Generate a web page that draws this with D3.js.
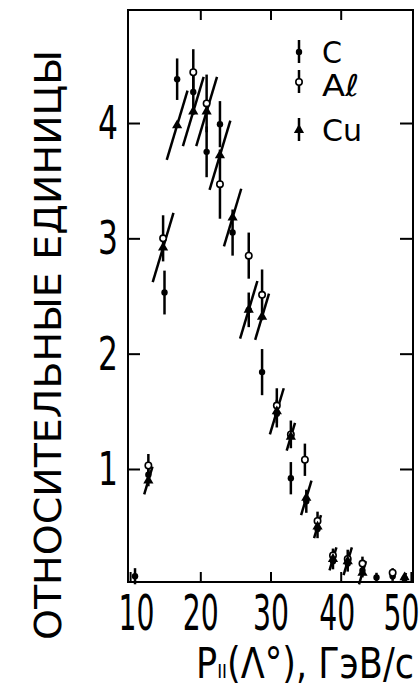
<!DOCTYPE html>
<html>
<head>
<meta charset="utf-8">
<script src="https://cdn.jsdelivr.net/npm/d3@7"></script>
<style>
  body { margin: 0; background: #fff; }
  svg { display: block; }
  text { font-family: "DejaVu Sans", sans-serif; fill: #000; }
</style>
</head>
<body>
<svg id="chart" width="420" height="691"></svg>
<script>
// values: [p, value, error]
var carbon = [
	[10.7, 0.07, 0.07], [12.6, 0.95, 0.10], [14.9, 2.53, 0.19], [16.7, 4.38, 0.18],
	[19.0, 4.27, 0.20], [20.9, 3.75, 0.22], [22.8, 3.99, 0.20], [24.6, 3.05, 0.20],
	[26.9, 2.38, 0.15], [28.8, 1.84, 0.20], [30.9, 1.48, 0.12], [32.9, 0.92, 0.14],
	[35.1, 0.72, 0.10], [36.7, 0.48, 0.08], [38.9, 0.20, 0.07], [41.0, 0.18, 0.07],
	[43.1, 0.12, 0.06], [45.1, 0.06, 0.04], [47.4, 0.07, 0.04], [49.1, 0.05, 0.03]
];
var aluminium = [
	[12.6, 1.03, 0.10], [14.7, 3.00, 0.20], [19.0, 4.44, 0.20], [20.9, 4.17, 0.25],
	[22.8, 3.47, 0.30], [26.9, 2.85, 0.20], [28.8, 2.51, 0.22], [30.9, 1.55, 0.15],
	[32.9, 1.30, 0.12], [34.9, 1.08, 0.14], [36.7, 0.55, 0.08], [38.9, 0.25, 0.06],
	[41.0, 0.22, 0.08], [43.1, 0.18, 0.06], [47.4, 0.10, 0.04]
];
var copper = [
	[12.6, 0.90, 0.12], [14.7, 2.92, 0.30], [16.7, 3.98, 0.30], [19.0, 4.10, 0.30],
	[20.9, 4.10, 0.30], [22.8, 3.72, 0.30], [24.6, 3.18, 0.25], [26.9, 2.38, 0.25],
	[28.8, 2.32, 0.20], [30.9, 1.50, 0.20], [32.9, 1.28, 0.12], [35.1, 0.75, 0.15],
	[36.7, 0.50, 0.10], [38.9, 0.22, 0.10], [41.0, 0.20, 0.12], [43.1, 0.10, 0.10],
	[49.1, 0.06, 0.04]
];
var legendNames = ["C", "A\u2113", "Cu"];
var xTicks = [10, 20, 30, 40, 50];
var yTicks = [1, 2, 3, 4];
var yTitle = "ОТНОСИТЕЛЬНЫЕ ЕДИНИЦЫ";
var xTitle = ["P", "II", "(Λ°), ГэВ/с"];

var svg = d3.select("#chart");

var LEFT = 128, RIGHT = 413, TOP = 10, BOTTOM = 582;
var x = d3.scaleLinear().domain([9.7, 50.3]).range([LEFT, RIGHT]);
var y = d3.scaleLinear().domain([0.02, 4.98]).range([BOTTOM, TOP]);

// frame
svg.append("rect")
	.attr("x", LEFT).attr("y", TOP)
	.attr("width", RIGHT - LEFT).attr("height", BOTTOM - TOP)
	.style("fill", "none").style("stroke", "#000").style("stroke-width", 2);

// inward ticks on all four sides
function styleAxis(g) {
	g.select(".domain").remove();
	g.selectAll("line").style("stroke", "#000").style("stroke-width", 2);
}

var gx = svg.append("g").attr("transform", `translate(0,${ BOTTOM })`)
	.call(d3.axisBottom(x).tickValues(xTicks).tickSize(-10).tickPadding(48))
	.call(styleAxis);
gx.selectAll("text")
	.style("font-size", "50px")
	.attr("textLength", 36).attr("lengthAdjust", "spacingAndGlyphs")
	.attr("dy", 0);
// nudge the end labels the way the original lettering sits
var nudge = { 10: 6, 40: -4, 50: -10 };
gx.selectAll(".tick").select("text").attr("dx", d => nudge[d] || 0);

svg.append("g").attr("transform", `translate(0,${ TOP })`)
	.call(d3.axisTop(x).tickValues(xTicks.slice(1, 4)).tickSize(-10).tickFormat(""))
	.call(styleAxis);

var gy = svg.append("g").attr("transform", `translate(${ LEFT },0)`)
	.call(d3.axisLeft(y).tickValues(yTicks).tickSize(-12).tickPadding(10).tickFormat(d3.format("d")))
	.call(styleAxis);
gy.selectAll("text")
	.style("font-size", "46px")
	.attr("textLength", 20).attr("lengthAdjust", "spacingAndGlyphs")
	.attr("dy", "0.34em");

svg.append("g").attr("transform", `translate(${ RIGHT },0)`)
	.call(d3.axisRight(y).tickValues(yTicks).tickSize(-13).tickFormat(""))
	.call(styleAxis);

// axis titles
svg.append("text")
	.attr("transform", "translate(61,345) rotate(-90)")
	.attr("text-anchor", "middle")
	.style("font-size", "37px")
	.attr("textLength", 590).attr("lengthAdjust", "spacingAndGlyphs")
	.text(yTitle);

var xg = svg.append("g");
var xt = xg.append("text")
	.attr("x", 0).attr("y", 0)
	.style("font-size", "42px");
xt.append("tspan").text(xTitle[0]);
xt.append("tspan").style("font-size", "20px").text(xTitle[1]);
xt.append("tspan").text(xTitle[2]);
var natural = xt.node().getComputedTextLength();
xg.attr("transform", `translate(196,678) scale(${ 218 / natural },1)`);

// error bars + markers
var plot = svg.append("g");
var SLANT = 0.3;

function bars(data, slanted) {
	plot.append("g").selectAll("line")
		.data(data)
		.enter()
		.append("line")
		.attr("x1", d => x(d[0]) - (slanted ? SLANT * (y(d[1] - d[2]) - y(d[1])) : 0))
		.attr("y1", d => y(d[1] - d[2]))
		.attr("x2", d => x(d[0]) + (slanted ? SLANT * (y(d[1] - d[2]) - y(d[1])) : 0))
		.attr("y2", d => y(Math.min(d[1] + d[2], 4.95)))
		.style("stroke", "#000")
		.style("stroke-width", 2.5);
}

bars(carbon, false);
bars(aluminium, false);
bars(copper, true);

plot.append("g").selectAll("circle")
	.data(carbon).enter().append("circle")
	.attr("cx", d => x(d[0])).attr("cy", d => y(d[1])).attr("r", 3.2)
	.style("fill", "#000");

plot.append("g").selectAll("circle")
	.data(aluminium).enter().append("circle")
	.attr("cx", d => x(d[0])).attr("cy", d => y(d[1])).attr("r", 3.2)
	.style("fill", "#fff").style("stroke", "#000").style("stroke-width", 1.6);

var tri = d3.symbol().type(d3.symbolTriangle).size(45);
plot.append("g").selectAll("path")
	.data(copper).enter().append("path")
	.attr("d", tri)
	.attr("transform", d => `translate(${ x(d[0]) },${ y(d[1]) })`)
	.style("fill", "#000");

// legend
var legend = svg.append("g").attr("transform", "translate(299,52)");
var items = legend.selectAll("g")
	.data(legendNames).enter().append("g")
	.attr("transform", (d, i) => `translate(0,${ [0, 30, 78][i] })`);

items.append("line")
	.attr("x1", 0).attr("x2", 0).attr("y1", -12).attr("y2", 11)
	.style("stroke", "#000").style("stroke-width", 2.5);
items.filter((d, i) => i === 0).append("circle").attr("r", 3.2).style("fill", "#000");
items.filter((d, i) => i === 1).append("circle").attr("r", 3.2)
	.style("fill", "#fff").style("stroke", "#000").style("stroke-width", 1.6);
items.filter((d, i) => i === 2).append("path").attr("d", tri).style("fill", "#000");

items.append("text")
	.attr("x", 23).attr("y", (d, i) => i === 1 ? 14 : 11)
	.style("font-size", "30px")
	.attr("textLength", (d, i) => [20, 37, 40][i]).attr("lengthAdjust", "spacingAndGlyphs")
	.text(d => d);
</script>
</body>
</html>
